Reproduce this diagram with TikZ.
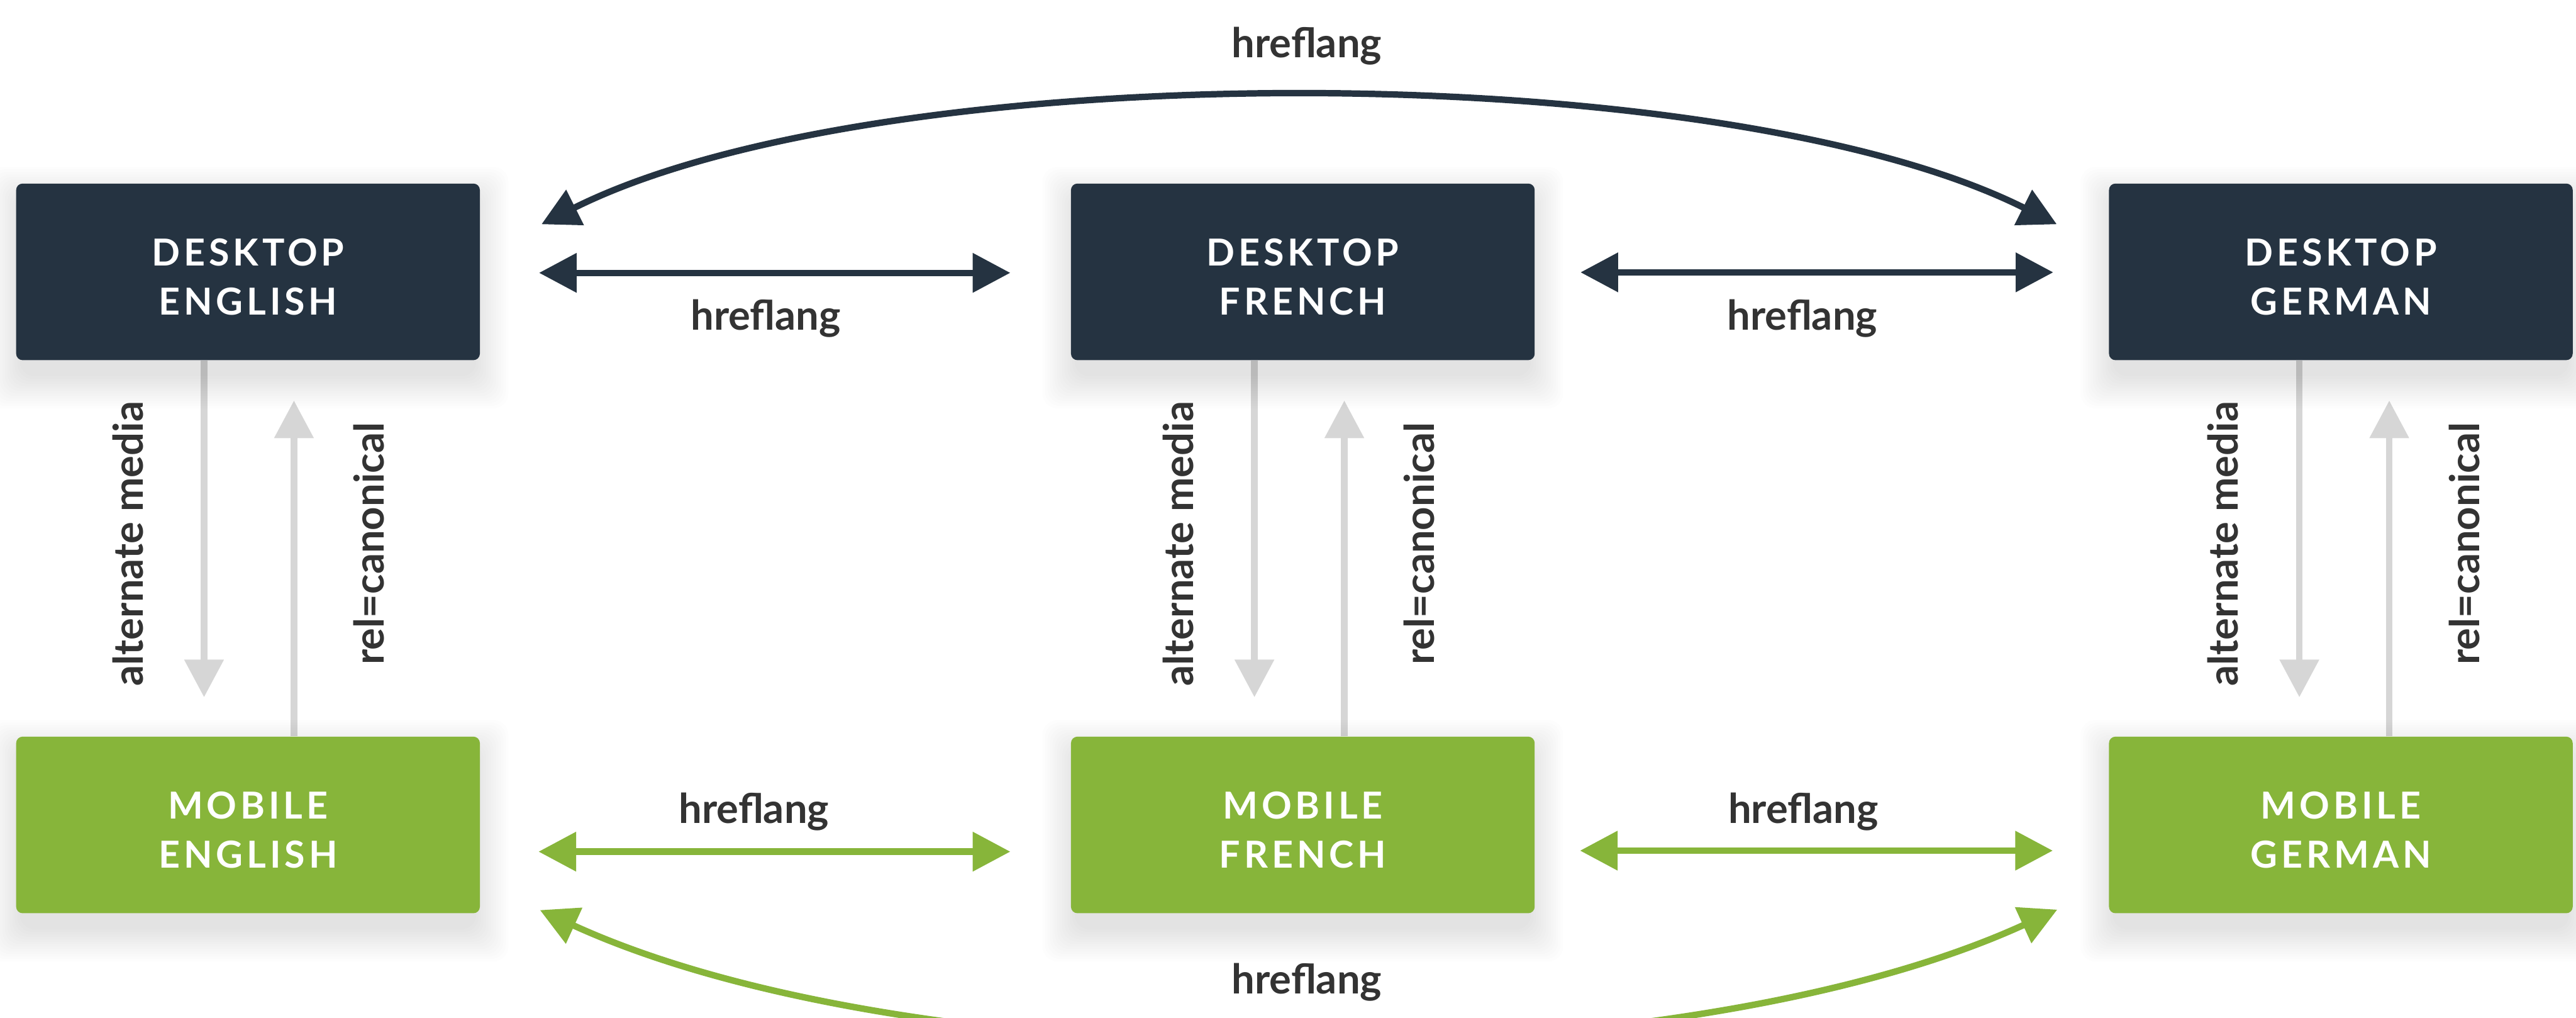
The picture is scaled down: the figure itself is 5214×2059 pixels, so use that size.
\documentclass[tikz,border=0pt]{standalone}
\usepackage{fontspec}
\setmainfont{Lato}
\newfontfamily\boxfamily[LetterSpace=10]{Lato}
\usetikzlibrary{arrows.meta,calc}

\definecolor{navy}{HTML}{253341}
\definecolor{leaf}{HTML}{87B53A}
\definecolor{rail}{HTML}{D6D6D6}
\definecolor{ink}{HTML}{333333}

\pgfdeclarelayer{paper}
\pgfdeclarelayer{under}
\pgfdeclarelayer{shade}
\pgfsetlayers{paper,under,shade,main}

\begin{document}
\begin{tikzpicture}[x=0.01cm, y=-0.01cm,
  >={Triangle[length=0.76cm, width=0.77cm]},
  box/.style={rounded corners=0.13cm, minimum width=9.38cm, minimum height=3.57cm,
    inner sep=0pt,
    label={[boxtext]center:#1}},
  boxtext/.style={text=white, align=center, inner sep=0pt, yshift=-0.1cm,
    font=\boxfamily\bfseries\fontsize{21.4pt}{28.2pt}\selectfont},
  desk/.style={box={#1}, fill=navy},
  mob/.style={box={#1}, fill=leaf},
  tag/.style={text=ink, inner sep=0pt, anchor=base,
    font=\bfseries\fontsize{23.6pt}{28pt}\selectfont},
  vtag/.style={tag, rotate=90},
  navylink/.style={draw=navy, line width=0.13cm},
  leaflink/.style={draw=leaf, line width=0.13cm},
  raillink/.style={draw=rail, line width=0.13cm},
]
\useasboundingbox (0,0) rectangle (5214,2059);
\begin{pgfonlayer}{paper}
  \fill[white] (0,0) rectangle (5214,2059);
\end{pgfonlayer}
\clip (0,0) rectangle (5214,2059);

% page boxes
\node[desk={DESKTOP\\ENGLISH}] (de) at (502,550) {};
\node[desk={DESKTOP\\FRENCH}]  (df) at (2637,550) {};
\node[desk={DESKTOP\\GERMAN}]  (dg) at (4738,550) {};
\node[mob={MOBILE\\ENGLISH}]   (me) at (502,1669) {};
\node[mob={MOBILE\\FRENCH}]    (mf) at (2637,1669) {};
\node[mob={MOBILE\\GERMAN}]    (mg) at (4738,1669) {};

% soft drop shadows: stacked translucent rounded rectangles
\begin{pgfonlayer}{shade}
  \foreach \b in {de,df,dg,me,mf,mg}{
    \foreach \k in {0,...,13}{
      \fill[black, opacity=0.008, rounded corners=0.3cm]
        ($(\b.north west)+({8-5*\k},{32-5*\k})$) rectangle ($(\b.south east)+({5*\k-8},{32+5*\k})$);
    }
  }
\end{pgfonlayer}

% desktop <-> mobile links, kept beneath the box shadows
\begin{pgfonlayer}{under}
  \foreach \d/\m/\off in {de/me/-89, df/mf/-98, dg/mg/-84}{
    \draw[raillink,->,shorten >=0.79cm] ($(\d.south)+(\off,0)$) -- ($(\m.north)+(\off,0)$);
    \draw[raillink,->,shorten >=0.81cm] ($(\m.north)+(\off+182,0)$) -- ($(\d.south)+(\off+182,0)$);
  }
\end{pgfonlayer}
\foreach \d/\off/\n in {de/-89/e, df/-98/f, dg/-84/g}{
  \node[vtag] (alt\n) at ($(\d.center)+(\off-124,550)$) {alternate media};
  \node[vtag] (can\n) at ($(\d.center)+(\off+364,550)$) {rel=canonical};
}

% hreflang links between neighbouring desktop pages
\draw[navylink,<->,shorten <=1.19cm,shorten >=1.22cm] ([yshift=-0.02cm]de.east) -- ([yshift=-0.02cm]df.west);
\draw[navylink,<->,shorten <=0.92cm,shorten >=1.12cm] ([yshift=-0.01cm]df.east) -- ([yshift=-0.01cm]dg.west);
\node[tag] (hd1) at (1550,668) {hreflang};
\node[tag] (hd2) at (3648,668) {hreflang};

% hreflang links between neighbouring mobile pages
\draw[leaflink,<->,shorten <=1.18cm,shorten >=1.22cm] ([yshift=-0.54cm]me.east) -- ([yshift=-0.54cm]mf.west);
\draw[leaflink,<->,shorten <=0.91cm,shorten >=1.13cm] ([yshift=-0.52cm]mf.east) -- ([yshift=-0.52cm]mg.west);
\node[tag] (hm1) at (1526,1665) {hreflang};
\node[tag] (hm2) at (3650,1665) {hreflang};

% long hreflang arcs between English and German
\coordinate (arcL) at ($(de.north east)+(124,83)$);
\coordinate (arcR) at ($(dg.north west)+(-105,83)$);
\draw[navylink,<->] (arcL) .. controls ($(arcL)+(685,-343)$) and ($(arcR)+(-685,-343)$) .. (arcR);
\node[tag] (ht) at (2645,117) {hreflang};

\coordinate (bowL) at ($(me.south east)+(121,-7)$);
\coordinate (bowR) at ($(mg.south west)+(-104,-8)$);
\draw[leaflink,<->] (bowL) .. controls ($(bowL)+(770,352)$) and ($(bowR)+(-770,352)$) .. (bowR);
\node[tag] (hb) at (2645,2011) {hreflang};
\end{tikzpicture}
\end{document}
